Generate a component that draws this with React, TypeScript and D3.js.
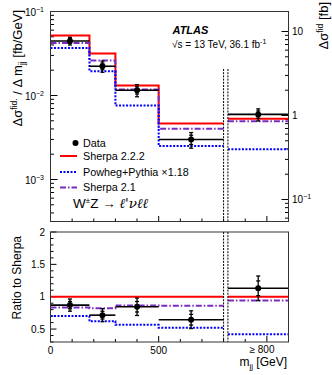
import React from "react";
import * as d3 from "d3";

// bins in m_jj [GeV]; last bin is the overflow (>= 800), drawn from 820 to 1100
const binLow = [0, 180, 300, 500, 820];
const binHigh = [180, 300, 500, 800, 1100];

// top panel: bins 1-4 in fb/GeV (left axis), overflow bin in fb (right axis)
const dataXsec = [0.0446, 0.0223, 0.01156, 0.00299, 1.03];
const dataErr = [0.0047, 0.0034, 0.0019, 0.00063, 0.17];
const sherpa222 = [0.0518, 0.0316, 0.01315, 0.00464, 0.913];
const powheg = [0.0367, 0.0195, 0.0076, 0.00251, 0.397];
const sherpa21 = [0.0423, 0.0261, 0.0118, 0.00402, 0.855];

// bottom panel: ratio to Sherpa 2.2.2
const dataRatio = [0.87, 0.715, 0.845, 0.645, 1.13];
const dataRatioErr = [0.094, 0.1, 0.135, 0.137, 0.19];
const powhegRatio = [0.7, 0.62, 0.565, 0.52, 0.42];
const sherpa21Ratio = [0.835, 0.82, 0.865, 0.86, 0.94];
const sherpa222Ratio = [1, 1, 1, 1, 1];

const ratioTicks = [0.5, 1, 1.5, 2];
const xTickLabels = [
  { v: 0, t: "0" },
  { v: 500, t: "500" },
];

const RED = "#ff0000";
const BLUE = "#0000ff";
const PURPLE = "#7a2cc0";
const FONT = "'Liberation Sans', Arial, sans-serif";

const left = 50.5;
const right = 288.5;
const topY0 = 11.5;
const topY1 = 221.5;
const botY0 = 232;
const botY1 = 342;

const styles = {
  red: { stroke: RED, strokeWidth: 2, fill: "none" },
  blue: { stroke: BLUE, strokeWidth: 2, strokeDasharray: "2,1.5", fill: "none" },
  purple: { stroke: PURPLE, strokeWidth: 2, strokeDasharray: "6,2,1.5,2", fill: "none" },
};

const App = () => {
  const x = d3.scaleLinear().domain([0, 1100]).range([left, right]);
  const yL = d3.scaleLog().domain([Math.pow(10, -3.5), 0.1]).range([topY1, topY0]);
  const yR = d3
    .scaleLog()
    .domain([Math.pow(10, -1.262), Math.pow(10, 1.238)])
    .range([topY1, topY0]);
  const yRat = d3.scaleLinear().domain([0.3, 2]).range([botY1, botY0]);
  const yTop = (v: number, i: number) => (i < 4 ? yL(v) : yR(v));

  // step histogram over the 4 main bins, plus separate overflow segment
  const stepPath = (vals: number[], yf: (v: number, i: number) => number) => {
    let p = `M${x(binLow[0])},${yf(vals[0], 0)}H${x(binHigh[0])}`;
    for (let i = 1; i < 4; i++) {
      p += `V${yf(vals[i], i)}H${x(binHigh[i])}`;
    }
    p += `M${x(binLow[4])},${yf(vals[4], 4)}H${x(binHigh[4])}`;
    return p;
  };

  const isDecade = (t: number) => Math.abs(Math.log10(t) - Math.round(Math.log10(t))) < 1e-6;
  const xTicks = d3.range(0, 1101, 100);
  const ratioMinor = d3.range(0.3, 2.001, 0.1);

  const errBar = (cx: number, cy: number, yHi: number, yLo: number, sHi: number, sLo: number) => (
    <g stroke="#000" strokeWidth={1.3}>
      <line x1={cx} x2={cx} y1={yHi} y2={yLo} />
      <line x1={cx - 2} x2={cx + 2} y1={yHi} y2={yHi} />
      <line x1={cx - 2} x2={cx + 2} y1={yLo} y2={yLo} />
      <line x1={cx - 2} x2={cx + 2} y1={sHi} y2={sHi} />
      <line x1={cx - 2} x2={cx + 2} y1={sLo} y2={sLo} />
    </g>
  );

  return (
    <svg
      width={332}
      height={375}
      viewBox="0 0 332 375"
      style={{ position: "absolute", left: 0, top: 0, background: "#fff" }}
      fontFamily={FONT}
    >
      {/* ---------- top panel ---------- */}
      <g>
        {yL.ticks().map((t, i) => {
          const major = isDecade(t);
          return (
            <line key={"yl" + i} x1={left} x2={left + (major ? 7 : 3.5)} y1={yL(t)} y2={yL(t)} stroke="#000" />
          );
        })}
        {yR.ticks().map((t, i) => {
          const major = isDecade(t);
          return (
            <line key={"yr" + i} x1={right} x2={right - (major ? 7 : 3.5)} y1={yR(t)} y2={yR(t)} stroke="#000" />
          );
        })}
        {xTicks.map((t) => (
          <line key={"xt" + t} x1={x(t)} x2={x(t)} y1={topY1} y2={topY1 - (t % 500 === 0 ? 5.5 : 3)} stroke="#000" />
        ))}
        {[-1, -2, -3].map((e) => (
          <text key={"ll" + e} x={44} y={yL(Math.pow(10, e)) + 4} textAnchor="end" fontSize={10}>
            10<tspan dy={-4} fontSize={7}>{"\u2212" + -e}</tspan>
          </text>
        ))}
        <text x={292} y={yR(10) + 4} fontSize={10}>10</text>
        <text x={292} y={yR(1) + 4} fontSize={10}>1</text>
        <text x={292} y={yR(0.1) + 4} fontSize={10}>
          10<tspan dy={-4} fontSize={7}>{"\u22121"}</tspan>
        </text>

        <path d={stepPath(sherpa222, yTop)} {...styles.red} />
        <path d={stepPath(sherpa21, yTop)} {...styles.purple} />
        <path d={stepPath(powheg, yTop)} {...styles.blue} />

        {dataXsec.map((v, i) => {
          const cx = x((binLow[i] + binHigh[i]) / 2);
          const cy = yTop(v, i);
          const e = dataErr[i];
          return (
            <g key={"dt" + i}>
              <line x1={x(binLow[i])} x2={x(binHigh[i])} y1={cy} y2={cy} stroke="#000" strokeWidth={1.6} />
              {errBar(cx, cy, yTop(v + e, i), yTop(v - e, i), yTop(v + 0.6 * e, i), yTop(v - 0.6 * e, i))}
              <circle cx={cx} cy={cy} r={3} fill="#000" />
            </g>
          );
        })}

        {[800, 820].map((v) => (
          <line key={"sep" + v} x1={x(v)} x2={x(v)} y1={69} y2={topY1} stroke="#000" strokeDasharray="2,1.2" />
        ))}

        <rect x={left} y={topY0} width={right - left} height={topY1 - topY0} fill="none" stroke="#333" />

        {/* legend */}
        <circle cx={75.5} cy={143} r={3} fill="#000" />
        <text x={83} y={146.8} fontSize={10.8}>Data</text>
        <line x1={60} x2={77} y1={156} y2={156} {...styles.red} />
        <text x={83} y={159.8} fontSize={10.8}>Sherpa 2.2.2</text>
        <line x1={60} x2={77} y1={172} y2={172} {...styles.blue} />
        <text x={83} y={175.8} fontSize={10.8}>Powheg+Pythia {"\u00d7"}1.18</text>
        <line x1={60} x2={77} y1={187.5} y2={187.5} {...styles.purple} />
        <text x={83} y={191.3} fontSize={10.8}>Sherpa 2.1</text>
        <text x={73} y={208} fontSize={13.5}>
          W<tspan dy={-5} fontSize={8}>{"\u00b1"}</tspan>
          <tspan dy={5}>Z {"\u2192"} </tspan>
          <tspan fontStyle="italic" fontFamily="'DejaVu Serif', serif">{"\u2113'\u03bd\u2113\u2113"}</tspan>
        </text>

        <text x={172.5} y={33.5} fontSize={11} fontWeight="bold" fontStyle="italic">ATLAS</text>
        <text x={172} y={47.5} fontSize={10}>
          {"\u221as = 13 TeV, 36.1 fb"}
          <tspan dy={-4} fontSize={7}>{"-1"}</tspan>
        </text>
      </g>

      {/* ---------- ratio panel ---------- */}
      <g>
        {ratioMinor.map((t, i) => {
          const major = Math.abs(t * 2 - Math.round(t * 2)) < 1e-6;
          return (
            <line key={"rm" + i} x1={left} x2={left + (major ? 6 : 3)} y1={yRat(t)} y2={yRat(t)} stroke="#000" />
          );
        })}
        {ratioTicks.map((t) => (
          <text key={"rt" + t} x={45} y={yRat(t) + 3.5} textAnchor="end" fontSize={10}>
            {t}
          </text>
        ))}
        {xTicks.map((t) => (
          <line key={"bx" + t} x1={x(t)} x2={x(t)} y1={botY1} y2={botY1 - (t % 500 === 0 ? 6 : 3)} stroke="#000" />
        ))}
        {xTickLabels.map((d) => (
          <text key={"xl" + d.v} x={x(d.v)} y={353.5} textAnchor="middle" fontSize={10}>
            {d.t}
          </text>
        ))}
        <text x={262} y={353} textAnchor="middle" fontSize={10}>{"\u2265 800"}</text>
        <text x={287} y={366} textAnchor="end" fontSize={12}>
          m<tspan dy={3} fontSize={8}>jj</tspan>
          <tspan dy={-3}> [GeV]</tspan>
        </text>

        <path d={stepPath(sherpa222Ratio, (v) => yRat(v))} {...styles.red} />
        <path d={stepPath(sherpa21Ratio, (v) => yRat(v))} {...styles.purple} />
        <path d={stepPath(powhegRatio, (v) => yRat(v))} {...styles.blue} />

        {dataRatio.map((v, i) => {
          const cx = x((binLow[i] + binHigh[i]) / 2);
          const cy = yRat(v);
          const e = dataRatioErr[i];
          return (
            <g key={"dr" + i}>
              <line x1={x(binLow[i])} x2={x(binHigh[i])} y1={cy} y2={cy} stroke="#000" strokeWidth={1.6} />
              {errBar(cx, cy, yRat(v + e), yRat(v - e), yRat(v + 0.6 * e), yRat(v - 0.6 * e))}
              <circle cx={cx} cy={cy} r={3} fill="#000" />
            </g>
          );
        })}

        {[800, 820].map((v) => (
          <line key={"bsep" + v} x1={x(v)} x2={x(v)} y1={botY0} y2={botY1} stroke="#000" strokeDasharray="2,1.2" />
        ))}

        <rect x={left} y={botY0} width={right - left} height={botY1 - botY0} fill="none" stroke="#333" />
      </g>

      {/* axis titles */}
      <text transform="translate(22,10) rotate(-90)" textAnchor="end" fontSize={13}>
        {"\u0394\u03c3"}
        <tspan dy={-5} fontSize={8.5}>fid.</tspan>
        <tspan dy={5}>{" / \u0394 m"}</tspan>
        <tspan dy={3} fontSize={8.5}>jj</tspan>
        <tspan dy={-3}> [fb/GeV]</tspan>
      </text>
      <text transform="translate(21,236) rotate(-90)" textAnchor="end" fontSize={12}>
        Ratio to Sherpa
      </text>
      <text transform="translate(328,2) rotate(-90)" textAnchor="end" fontSize={13}>
        {"\u0394\u03c3"}
        <tspan dy={-5} fontSize={8.5}>fid</tspan>
        <tspan dy={5}> [fb]</tspan>
      </text>
    </svg>
  );
};

export default App;
